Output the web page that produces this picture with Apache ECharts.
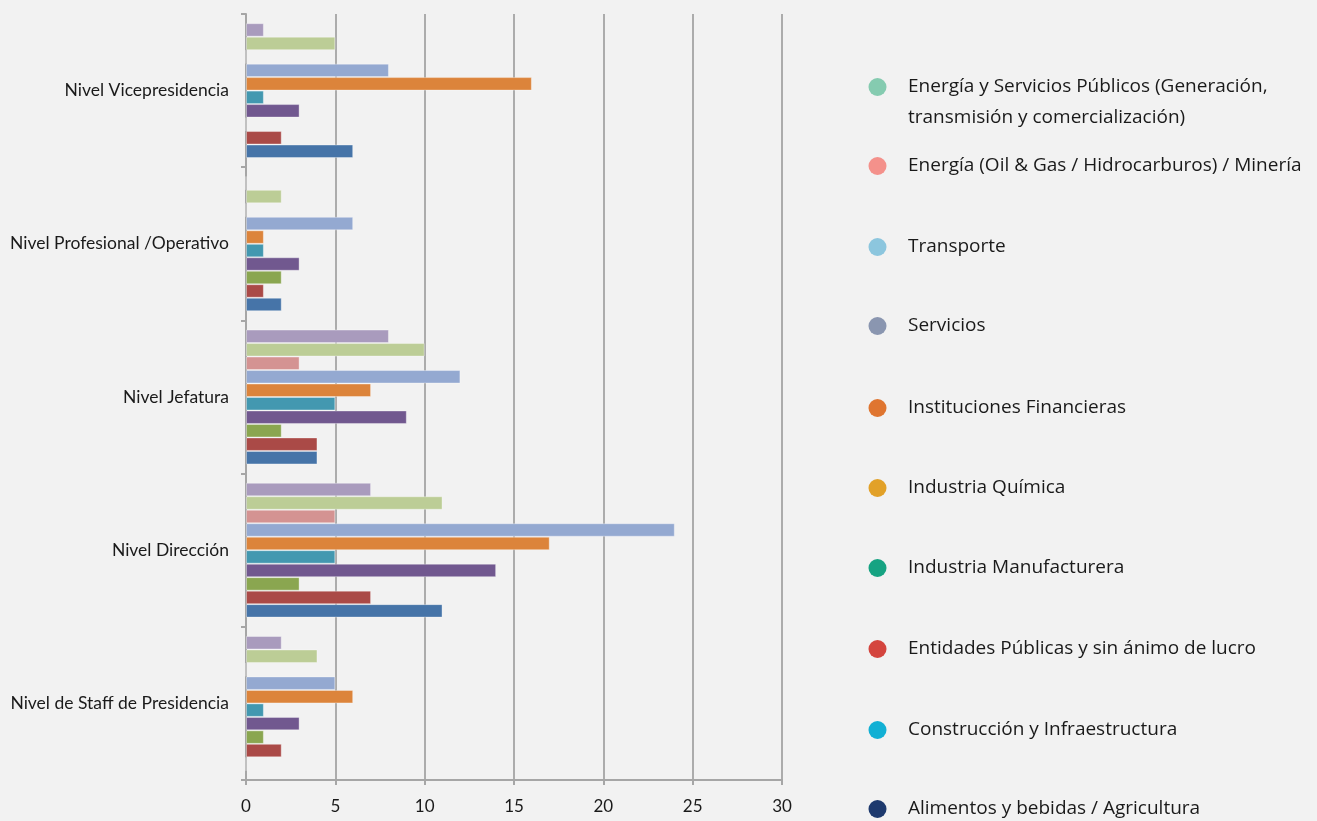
<!DOCTYPE html>
<html>
<head>
<meta charset="utf-8">
<title>Niveles por sector</title>
<script src="https://cdn.jsdelivr.net/npm/echarts@6/dist/echarts.min.js"></script>
<style>
  html, body { margin: 0; padding: 0; background: #f2f2f2; }
  #chart { width: 1317px; height: 821px; }
</style>
</head>
<body>
<div id="chart"></div>
<script>
// categorias de abajo hacia arriba
var niveles = ['Nivel de Staff de Presidencia', 'Nivel Dirección', 'Nivel Jefatura', 'Nivel Profesional /Operativo', 'Nivel Vicepresidencia'];

var sectores = [
  'Energía y Servicios Públicos (Generación, transmisión y comercialización)',
  'Energía (Oil & Gas / Hidrocarburos) / Minería',
  'Transporte',
  'Servicios',
  'Instituciones Financieras',
  'Industria Química',
  'Industria Manufacturera',
  'Entidades Públicas y sin ánimo de lucro',
  'Construcción y Infraestructura',
  'Alimentos y bebidas / Agricultura'
];

// valores por sector, en el orden de niveles
var energiaServicios = [2, 7, 8, 0, 1];
var energiaOil = [4, 11, 10, 2, 5];
var transporte = [0, 5, 3, 0, 0];
var servicios = [5, 24, 12, 6, 8];
var financieras = [6, 17, 7, 1, 16];
var quimica = [1, 5, 5, 1, 1];
var manufacturera = [3, 14, 9, 3, 3];
var entidades = [1, 3, 2, 2, 0];
var construccion = [2, 7, 4, 1, 2];
var alimentos = [0, 11, 4, 2, 6];

var valores = [energiaServicios, energiaOil, transporte, servicios, financieras,
  quimica, manufacturera, entidades, construccion, alimentos];

var barColors = ['#a99bbd', '#bccd96', '#d49392', '#94a9d1', '#dc843b',
  '#4398b0', '#71588f', '#8aa650', '#aa4a47', '#4674a8'];
var legendColors = ['#85cbb0', '#f4918b', '#8cc6de', '#8a96b0', '#df7530',
  '#e2a128', '#16a382', '#d4453e', '#12b0d4', '#1e3a6e'];
var legendCenters = [84, 164, 245, 324, 406, 486, 566, 647, 728, 807];

var chart = echarts.init(document.getElementById('chart'));

var series = [];
for (var i = 0; i < sectores.length; i++) {
  series.push({
    name: sectores[i],
    type: 'bar',
    data: valores[i],
    barGap: '0%',
    barCategoryGap: '12%',
    itemStyle: {
      color: barColors[i],
      borderColor: 'rgba(255,255,255,0.35)',
      borderWidth: 1
    }
  });
}

var legends = [];
for (var j = 0; j < sectores.length; j++) {
  var first = j === 0;
  legends.push({
    data: [{ name: sectores[j], itemStyle: { color: legendColors[j], borderWidth: 0 } }],
    left: 868.5,
    top: first ? legendCenters[j] - 43.5 : legendCenters[j] - 9,
    padding: 0,
    icon: 'circle',
    itemWidth: 18,
    itemHeight: 18,
    selectedMode: false,
    formatter: first ? function() {
      return '\nEnergía y Servicios Públicos (Generación,\ntransmisión y comercialización)';
    } : '{name}',
    textStyle: {
      fontFamily: 'Open Sans',
      fontSize: 19,
      color: '#1a1a1a',
      lineHeight: first ? 31 : 22,
      padding: [0, 0, 0, 16.5]
    }
  });
}

chart.setOption({
  backgroundColor: '#f2f2f2',
  animation: false,
  legend: legends,
  grid: {
    left: 246,
    right: 535,
    top: 14,
    bottom: 41
  },
  xAxis: {
    type: 'value',
    min: 0,
    max: 30,
    interval: 5,
    axisLine: { show: true, lineStyle: { color: '#a6a6a6', width: 2 } },
    axisTick: { show: true, length: 5, lineStyle: { color: '#a6a6a6', width: 2 } },
    axisLabel: { color: '#1a1a1a', fontFamily: 'Lato', fontSize: 17, margin: 18 },
    splitLine: { show: true, lineStyle: { color: '#959595', width: 1.5 } }
  },
  yAxis: {
    type: 'category',
    data: niveles,
    axisLine: { show: true, lineStyle: { color: '#a6a6a6', width: 2 } },
    axisTick: { show: true, length: 5, lineStyle: { color: '#a6a6a6', width: 2 } },
    axisLabel: { color: '#1a1a1a', fontFamily: 'Lato', fontSize: 17.5, margin: 17 }
  },
  series: series
});
</script>
</body>
</html>
